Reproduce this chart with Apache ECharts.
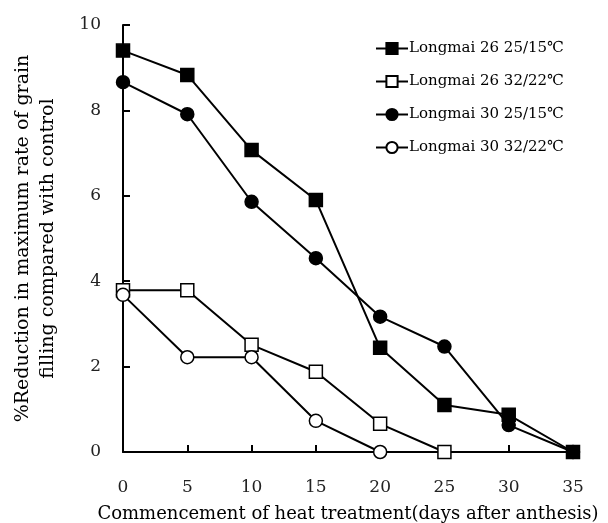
<!DOCTYPE html>
<html><head><meta charset="utf-8">
<script src="https://cdn.jsdelivr.net/npm/echarts@6/dist/echarts.min.js"></script>
<style>html,body{margin:0;padding:0;background:#fff}#c{width:608px;height:523px}</style>
</head><body><div id="c"></div>
<script>
const days = [0, 5, 10, 15, 20, 25, 30, 35];
const lm26_25 = [9.40, 8.83, 7.07, 5.90, 2.44, 1.10, 0.87, 0];
const lm26_32 = [3.79, 3.79, 2.51, 1.88, 0.66, 0];
const lm30_25 = [8.66, 7.91, 5.86, 4.54, 3.17, 2.47, 0.63, 0];
const lm30_32 = [3.68, 2.22, 2.22, 0.73, 0];
const names = ['Longmai 26 25/15℃','Longmai 26 32/22℃','Longmai 30 25/15℃','Longmai 30 32/22℃'];
const yTicks = [0, 2, 4, 6, 8, 10];
const xTicks = days;

const pair = arr => arr.map((v, i) => [days[i], v]);
const F = 'DejaVu Serif';
function s(name, data, symbol, filled) {
  return {
    name, type: 'line', data: pair(data), symbol, symbolSize: 13,
    lineStyle: {color: '#000', width: 2},
    itemStyle: {color: filled ? '#000' : '#fff', borderColor: '#000', borderWidth: 1.5},
    emphasis: {disabled: true}, z: filled ? 3 : 2
  };
}
const chart = echarts.init(document.getElementById('c'));
chart.setOption({
  animation: false,
  backgroundColor: '#fff',
  grid: {left: 123, right: 35, top: 25, bottom: 71, containLabel: false, outerBoundsMode: 'none'},
  legend: {
    orient: 'vertical', left: 370, top: 36, itemGap: 18, itemWidth: 32, itemHeight: 14,
    data: names,
    textStyle: {fontFamily: F, fontSize: 15, color: '#000', padding: [0, 0, 0, -4]}
  },
  xAxis: {
    type: 'value', min: 0, max: 35, interval: 5,
    name: 'Commencement of heat treatment(days after anthesis)',
    nameLocation: 'middle', nameGap: 53,
    nameTextStyle: {fontFamily: F, fontSize: 18, color: '#000'},
    axisLine: {lineStyle: {color: '#000', width: 2}},
    axisTick: {inside: true, length: 7, lineStyle: {color: '#000', width: 2}},
    axisLabel: {fontFamily: F, fontSize: 17, color: '#222', margin: 27,
      formatter: v => xTicks.includes(v) ? String(v) : ''},
    splitLine: {show: false}
  },
  yAxis: {
    type: 'value', min: 0, max: 10, interval: 2,
    name: '%Reduction in maximum rate of grain\nfilling compared with control',
    nameLocation: 'middle', nameGap: 62, nameRotate: 90,
    nameTextStyle: {fontFamily: F, fontSize: 19, color: '#000', lineHeight: 25},
    axisLine: {show: true, lineStyle: {color: '#000', width: 2}},
    axisTick: {show: true, inside: true, length: 7, lineStyle: {color: '#000', width: 2}},
    axisLabel: {fontFamily: F, fontSize: 17, color: '#222', margin: 22,
      formatter: v => yTicks.includes(v) ? String(v) : ''},
    splitLine: {show: false}
  },
  series: [
    s(names[0], lm26_25, 'rect', true),
    s(names[1], lm26_32, 'rect', false),
    s(names[2], lm30_25, 'circle', true),
    s(names[3], lm30_32, 'circle', false)
  ]
});
</script></body></html>
